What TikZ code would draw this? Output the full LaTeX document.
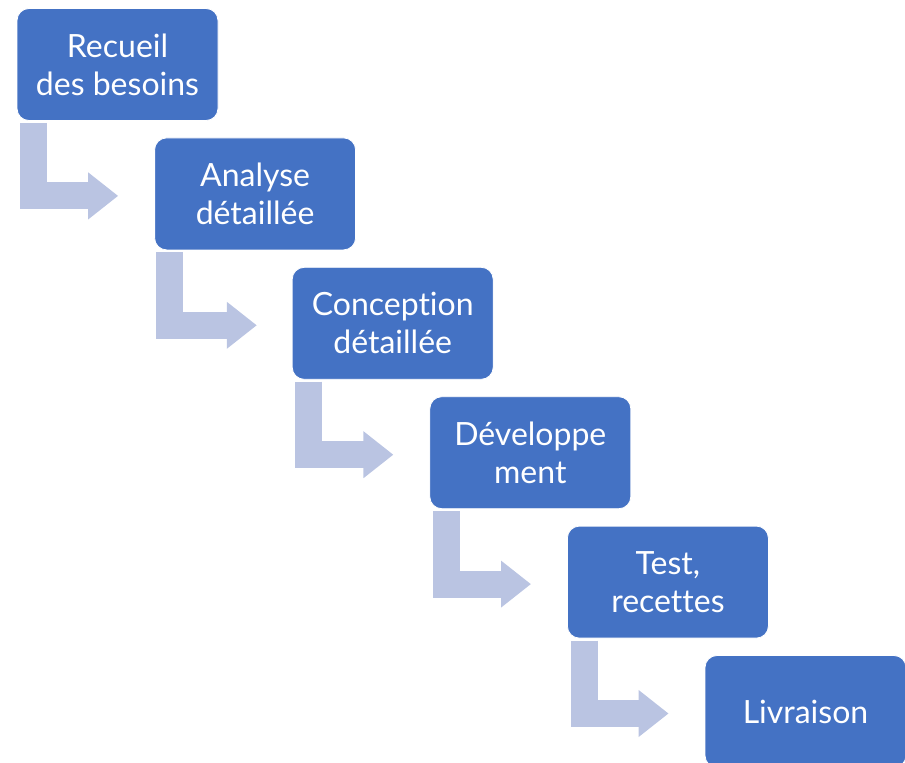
\documentclass[tikz,border=0pt]{standalone}
\usepackage{fontspec}
\setmainfont[Ligatures=NoCommon]{Lato}
\usetikzlibrary{arrows.meta,calc}
\definecolor{stepblue}{HTML}{4472C4}
\definecolor{flowblue}{HTML}{BAC4E2}
\tikzset{
  phase/.style={rectangle, rounded corners=12pt, fill=stepblue, draw=white, line width=0.8pt,
    minimum width=201pt, minimum height=112pt, text=white, align=center,
    font=\fontsize{32}{38}\selectfont},
  flow/.style={flowblue, line width=27pt, line join=miter,
    -{Triangle[length=30pt,width=45pt]}}
}

\begin{document}
\begin{tikzpicture}[x=1pt,y=-1pt]
      \useasboundingbox (0,0) rectangle (905,763);
      % Phases
      \node[phase] (recueil) at (117.5,64.5) {Recueil\\des besoins};
      \node[phase] (analyse) at (255.1,193.9) {Analyse\\détaillée};
      \node[phase] (conception) at (392.7,323.3) {Conception\\détaillée};
      \node[phase] (dev) at (530.3,452.7) {Développe\\ment};
      \node[phase] (test) at (667.9,582.1) {Test,\\recettes};
      \node[phase] (livraison) at (805.5,711.5) {Livraison};
      % Bent arrows
      \draw[flow] ($(recueil.south west)+(17,2)$) |- ($(analyse.west)+(-36,2)$);
      \draw[flow] ($(analyse.south west)+(15,2)$) |- ($(conception.west)+(-35,2)$);
      \draw[flow] ($(conception.south west)+(17,2)$) |- ($(dev.west)+(-36,2)$);
      \draw[flow] ($(dev.south west)+(17,2)$) |- ($(test.west)+(-36,2)$);
      \draw[flow] ($(test.south west)+(17,2)$) |- ($(livraison.west)+(-36,2)$);
    \end{tikzpicture}
\end{document}
